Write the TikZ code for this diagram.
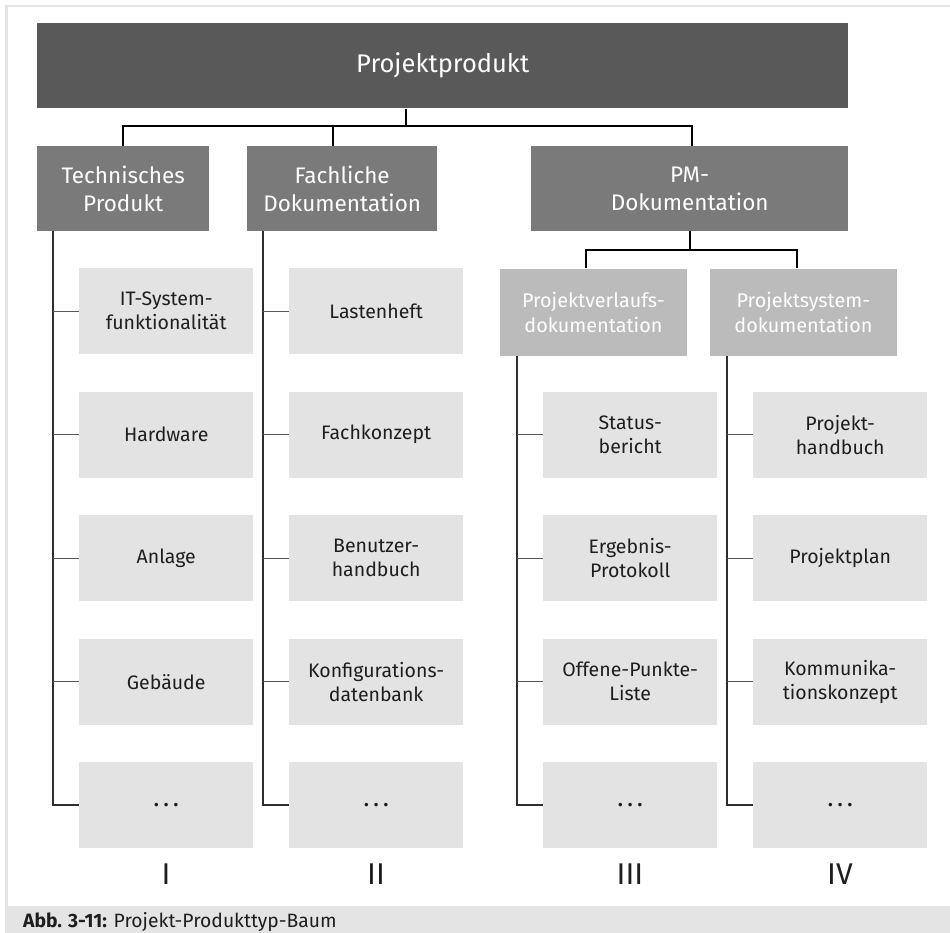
\documentclass[tikz,border=0pt]{standalone}
\usepackage{fontspec}
\setmainfont{Fira Sans}
\usetikzlibrary{calc}
\definecolor{cmain}{HTML}{595959}
\definecolor{clvtwo}{HTML}{7A7A7A}
\definecolor{clvthree}{HTML}{BBBBBB}
\definecolor{cleaf}{HTML}{E3E3E3}
\definecolor{cframe}{HTML}{E4E4E4}
\definecolor{cline}{HTML}{2E2E2E}
\definecolor{ctext}{HTML}{1E1E1E}
\newcommand{\moredots}{\textbf{.\hspace{5pt}.\hspace{5pt}.}}
\tikzset{
  box/.style={anchor=north west, inner sep=0pt, align=center},
  mainbox/.style={box, fill=cmain, text=white, minimum width=811pt, minimum height=85.5pt, font=\fontsize{25.5}{30}\selectfont},
  lvtwo/.style={box, fill=clvtwo, text=white, minimum height=85pt, font=\fontsize{22.5}{28}\selectfont},
  lvthree/.style={box, fill=clvthree, text=white, minimum width=186.5pt, minimum height=87pt, font=\fontsize{19.8}{25}\selectfont},
  leaf/.style={box, fill=cleaf, text=ctext, minimum width=174pt, minimum height=86pt, font=\fontsize{19.5}{24}\selectfont},
  numeral/.style={text=ctext, inner sep=0pt, font=\fontsize{30}{34}\selectfont},
  conn/.style={draw=black, line width=1.4pt},
  vline/.style={draw=cline, line width=1.8pt},
  stub/.style={draw=cline!80, line width=1.3pt}
}
\begin{document}
\begin{tikzpicture}[x=1pt,y=-1pt]
\useasboundingbox (0,0) rectangle (950,933);
% frame
\fill[cframe] (5,5) rectangle (950,7.5);
\fill[cframe] (5,5) rectangle (8,906);
\fill[cframe] (5,906) rectangle (950,933);
\node[anchor=base west, inner sep=0pt, text=ctext, font=\fontsize{19.3}{21}\selectfont] (cap) at (23,927.5) {\textbf{Abb. 3-11:} Projekt-Produkttyp-Baum};

% nodes
\node[mainbox] (main) at (37,22.7) {Projektprodukt};
\node[lvtwo, minimum width=172pt] (tech) at (37,146) {Technisches\\Produkt};
\node[lvtwo, minimum width=190pt] (fach) at (247,146) {Fachliche\\Dokumentation};
\node[lvtwo, minimum width=317pt] (pm) at (531,146) {PM-\\Dokumentation};
\node[lvthree] (pv) at (500,268.5) {Projektverlaufs-\\dokumentation};
\node[lvthree] (ps) at (710,268.5) {Projektsystem-\\dokumentation};

\node[leaf] (a1) at (79,268) {IT-System-\\funktionalität};
\node[leaf] (a2) at (79,391.5) {Hardware};
\node[leaf] (a3) at (79,515) {Anlage};
\node[leaf] (a4) at (79,638.5) {Gebäude};
\node[leaf] (a5) at (79,762) {\moredots};

\node[leaf] (b1) at (289,268) {Lastenheft};
\node[leaf] (b2) at (289,391.5) {Fachkonzept};
\node[leaf] (b3) at (289,515) {Benutzer-\\handbuch};
\node[leaf] (b4) at (289,638.5) {Konfigurations-\\datenbank};
\node[leaf] (b5) at (289,762) {\moredots};

\node[leaf] (c1) at (543,391.5) {Status-\\bericht};
\node[leaf] (c2) at (543,515) {Ergebnis-\\Protokoll};
\node[leaf] (c3) at (543,638.5) {Offene-Punkte-\\Liste};
\node[leaf] (c4) at (543,762) {\moredots};

\node[leaf] (d1) at (753,391.5) {Projekt-\\handbuch};
\node[leaf] (d2) at (753,515) {Projektplan};
\node[leaf] (d3) at (753,638.5) {Kommunika-\\tionskonzept};
\node[leaf] (d4) at (753,762) {\moredots};

\node[numeral] (n1) at (166,874) {I};
\node[numeral] (n2) at (376,874) {II};
\node[numeral] (n3) at (630,874) {III};
\node[numeral] (n4) at (840,874) {IV};

% top connectors
\coordinate (j0) at (406,126);
\coordinate (jt) at (123,126);
\coordinate (jf) at (333,126);
\coordinate (jp) at (692,126);
\draw[conn] (main.south -| j0) -- (j0);
\draw[conn] (jt |- tech.north) -- (jt) -- (jp) -- (jp |- pm.north);
\draw[conn] (jf) -- (jf |- fach.north);

\coordinate (k0) at (690,250);
\coordinate (kv) at (586,250);
\coordinate (ks) at (797,250);
\draw[conn] (pm.south -| k0) -- (k0);
\draw[conn] (kv |- pv.north) -- (kv) -- (ks) -- (ks |- ps.north);

% column spines
\coordinate (xI) at (53,0);
\coordinate (xII) at (263,0);
\coordinate (xIII) at (517,0);
\coordinate (xIV) at (727,0);
\draw[vline] (xI |- tech.south) |- (a5.west);
\draw[vline] (xII |- fach.south) |- (b5.west);
\draw[vline] (xIII |- pv.south) |- (c4.west);
\draw[vline] (xIV |- ps.south) |- (d4.west);
\foreach \n in {a1,a2,a3,a4} \draw[stub] (xI |- \n.west) -- (\n.west);
\foreach \n in {b1,b2,b3,b4} \draw[stub] (xII |- \n.west) -- (\n.west);
\foreach \n in {c1,c2,c3} \draw[stub] (xIII |- \n.west) -- (\n.west);
\foreach \n in {d1,d2,d3} \draw[stub] (xIV |- \n.west) -- (\n.west);
\end{tikzpicture}
\end{document}
